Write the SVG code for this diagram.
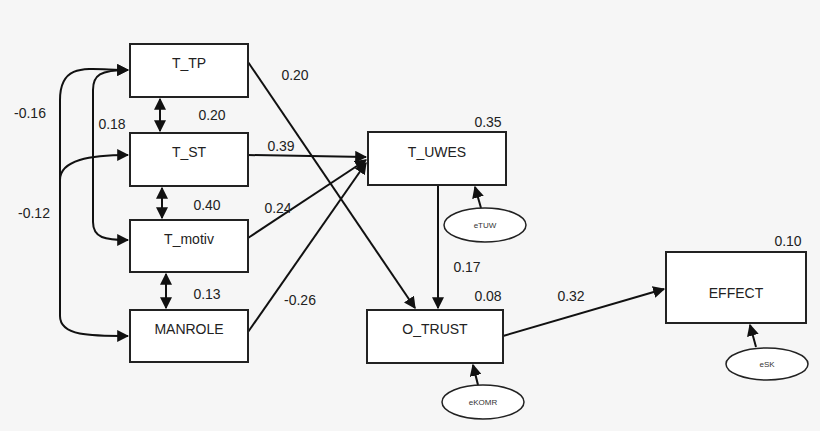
<svg xmlns="http://www.w3.org/2000/svg" width="820" height="431" viewBox="0 0 820 431">
<style>
.n{fill:#fff;stroke:#222;stroke-width:2}
.e{fill:#fff;stroke:#222;stroke-width:1.5}
.t{font-family:"Liberation Sans",Arial,sans-serif;font-size:14px;fill:#222;text-anchor:middle}
.s{font-family:"Liberation Sans",Arial,sans-serif;font-size:8px;fill:#333;text-anchor:middle}
.c{fill:none;stroke:#111;stroke-width:2}
</style>
<defs>
<marker id="a" viewBox="0 0 10 10" refX="9" refY="5" markerWidth="6" markerHeight="6" orient="auto-start-reverse"><path d="M0,0L10,5L0,10z" fill="#111"/></marker>
</defs>
<rect width="820" height="431" fill="#f6f6f6"/>
<g id="connectors">
<path class="c" d="M128,70C90,70 60,60 60,100V316C60,336 90,336 128,336" marker-start="url(#a)" marker-end="url(#a)"/>
<path class="c" d="M128,155C90,155 60,160 60,180" marker-start="url(#a)"/>
<path class="c" d="M128,70C100,70 93,75 93,90V222C93,238 105,240 128,240" marker-start="url(#a)" marker-end="url(#a)"/>
<line class="c" x1="160" y1="99" x2="160" y2="131" marker-start="url(#a)" marker-end="url(#a)"/>
<line class="c" x1="162" y1="188" x2="162" y2="218" marker-start="url(#a)" marker-end="url(#a)"/>
<line class="c" x1="166" y1="274" x2="166" y2="308" marker-start="url(#a)" marker-end="url(#a)"/>
<line class="c" x1="248" y1="62" x2="415" y2="308" marker-end="url(#a)"/>
<line class="c" x1="248" y1="155" x2="366" y2="157" marker-end="url(#a)"/>
<line class="c" x1="248" y1="238" x2="366" y2="160" marker-end="url(#a)"/>
<line class="c" x1="248" y1="332" x2="366" y2="163" marker-end="url(#a)"/>
<line class="c" x1="438" y1="186" x2="438" y2="308" marker-end="url(#a)"/>
<line class="c" x1="503" y1="336" x2="664" y2="289" marker-end="url(#a)"/>
<line class="c" x1="481" y1="208" x2="475" y2="187" marker-end="url(#a)"/>
<line class="c" x1="478" y1="385" x2="473" y2="365" marker-end="url(#a)"/>
<line class="c" x1="756" y1="347" x2="750" y2="325" marker-end="url(#a)"/>
</g>
<g id="T_TP"><rect class="n" x="130" y="44" width="118" height="53"/><text class="t" x="189" y="68">T_TP</text></g>
<g id="T_ST"><rect class="n" x="130" y="133" width="118" height="53"/><text class="t" x="189" y="157">T_ST</text></g>
<g id="T_motiv"><rect class="n" x="130" y="220" width="118" height="52"/><text class="t" x="189" y="244">T_motiv</text></g>
<g id="MANROLE"><rect class="n" x="130" y="310" width="118" height="52"/><text class="t" x="189" y="334">MANROLE</text></g>
<g id="T_UWES"><rect class="n" x="368" y="132" width="138" height="53"/><text class="t" x="437" y="157">T_UWES</text></g>
<g id="O_TRUST"><rect class="n" x="367" y="310" width="136" height="53"/><text class="t" x="435" y="334">O_TRUST</text></g>
<g id="EFFECT"><rect class="n" x="666" y="252" width="140" height="71"/><text class="t" x="736" y="298">EFFECT</text></g>
<g id="eTUW"><ellipse class="e" cx="485" cy="225" rx="41" ry="17"/><text class="s" x="485" y="228">eTUW</text></g>
<g id="eKOMR"><ellipse class="e" cx="483" cy="402" rx="41" ry="17"/><text class="s" x="483" y="405">eKOMR</text></g>
<g id="eSK"><ellipse class="e" cx="767" cy="364" rx="41" ry="16"/><text class="s" x="767" y="367">eSK</text></g>
<g id="labels">
<text class="t" x="295" y="80">0.20</text>
<text class="t" x="212" y="120">0.20</text>
<text class="t" x="281" y="151">0.39</text>
<text class="t" x="207" y="210">0.40</text>
<text class="t" x="278" y="213">0.24</text>
<text class="t" x="207" y="299">0.13</text>
<text class="t" x="300" y="305">-0.26</text>
<text class="t" x="488" y="127">0.35</text>
<text class="t" x="467" y="272">0.17</text>
<text class="t" x="488" y="301">0.08</text>
<text class="t" x="571" y="301">0.32</text>
<text class="t" x="788" y="246">0.10</text>
<text class="t" x="30" y="118">-0.16</text>
<text class="t" x="112" y="129">0.18</text>
<text class="t" x="34" y="218">-0.12</text>
</g>
</svg>
